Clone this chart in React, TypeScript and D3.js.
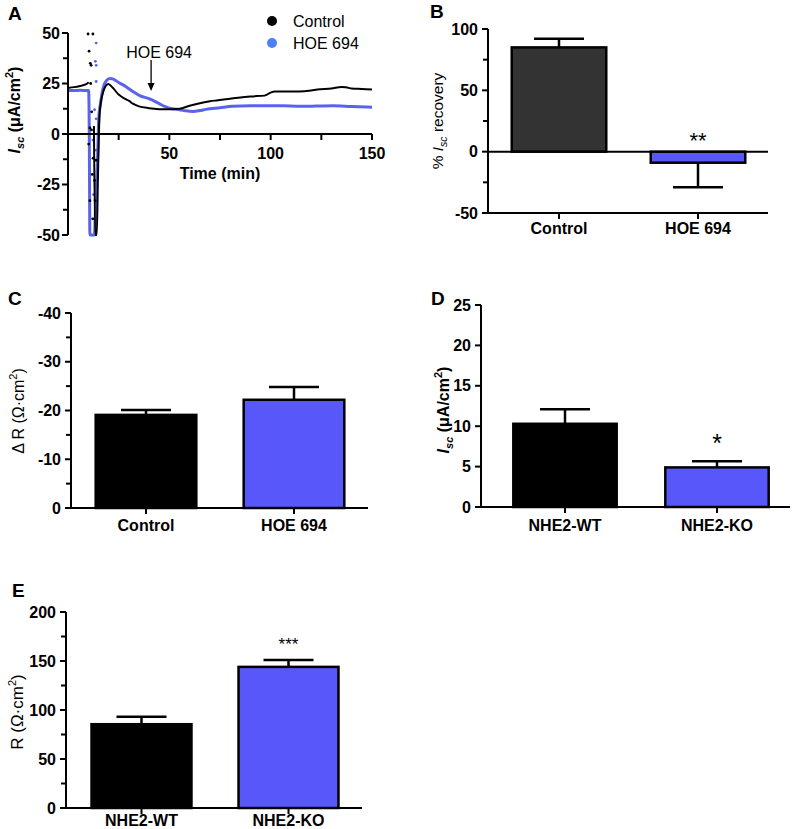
import React from 'react';
import * as d3 from 'd3';

const FONT = "'Liberation Sans', Arial, Helvetica, sans-serif";
const BLUE_BAR = '#5858fa';
const BLUE_TRACE = '#5b63ee';
const BLUE_LEGEND = '#4f7ff6';

// ---------- Panel A data ----------
const timeTicks = [25, 50, 75, 100, 125, 150];
const timeLabels = [50, 100, 150];
const iscTicks = [-50, -25, 0, 25, 50];
const iscMinor = [-37.5, -12.5, 12.5, 37.5];

const controlPre: [number, number][] = [
  [0, 22.8], [3, 23.2], [6, 23.8], [8, 24.3], [9.5, 25], [10.2, 25.6],
];
const controlTrace: [number, number][] = [
  [12.8, 4], [13.4, -50], [14.2, -50], [14.8, -20], [15.6, 10], [17.4, 21], [19.9, 24.7],
  [22, 23], [25, 19.5], [28, 17.5], [30, 16.5], [32, 15], [35, 13.7], [40, 12.8],
  [45, 12.3], [48, 12.2], [55, 12.5], [60, 14], [64, 15], [70, 16.2], [74, 16.7],
  [80, 17.5], [84, 18], [90, 18.6], [97, 19], [100, 20.5], [102, 21], [108, 21],
  [114, 21], [120, 21.5], [123, 22], [130, 22.5], [135, 23.3], [137, 23.2], [140, 22.5],
  [145, 22.3], [150, 22],
];
const hoeTrace: [number, number][] = [
  [0, 21.5], [3, 21.5], [6, 21.6], [9, 21.5], [10.2, 21.5], [10.5, 0], [10.8, -50],
  [13, -50], [13.8, -30], [14.5, -15], [15.2, 8], [16, 15], [17.4, 23], [19, 26.5],
  [20.7, 27.5], [22, 27.3], [25, 25.5], [28.8, 23.3], [32, 21], [35.4, 19], [40, 17.5],
  [45, 15], [48, 13.5], [50, 12.8], [55, 12], [58, 11.5], [61.7, 11.2], [65, 11.6],
  [68, 12.2], [75, 13], [81, 13.7], [90, 14], [98, 14], [106, 14], [114, 13.7],
  [122, 13.8], [131, 14], [140, 13.6], [150, 13.3],
];
const controlDots: [number, number][] = [
  [9.9, 49.5], [12.3, 49.5], [10.4, 41], [11, 35], [11.4, 34], [11.2, 25], [11.7, 11],
  [10.8, 3], [11.6, 2], [10.2, -5], [12.4, -12], [13.8, -13], [13.1, -23], [10.8, -33],
  [13.4, -33], [12.2, -42], [12, -20],
];
const hoeDots: [number, number][] = [
  [13.9, 45], [13.5, 36], [13.9, 34], [13.9, 26], [13.1, 12], [13.9, 7.5], [12.3, -3],
  [13.9, -8], [12.6, -30], [13.2, -42],
];

// ---------- Bar panel data ----------
const bCategories = ['Control', 'HOE 694'];
const bValues = [85, -9];
const bErrors = [7, 20];
const bTicks = [-50, 0, 50, 100];
const bMinor = [-25, 25, 75];

const cCategories = ['Control', 'HOE 694'];
const cValues = [-19.1, -22.2];
const cErrors = [1, 2.6];
const cTicks = [0, -10, -20, -30, -40];
const cMinor = [-5, -15, -25, -35];

const dCategories = ['NHE2-WT', 'NHE2-KO'];
const dValues = [10.3, 4.9];
const dErrors = [1.8, 0.75];
const dTicks = [0, 5, 10, 15, 20, 25];
const dMinor: number[] = [];

const eCategories = ['NHE2-WT', 'NHE2-KO'];
const eValues = [85.5, 144];
const eErrors = [7.5, 7];
const eTicks = [0, 50, 100, 150, 200];
const eMinor = [25, 75, 125, 175];

type BarProps = {
  cats: string[];
  values: number[];
  errors: number[];
  fills: string[];
  xRange: [number, number];
  axisX: number;
  axisXEnd: number;
  yDomain: [number, number];
  yRange: [number, number];
  xAxisAt: number;
  ticks: number[];
  minor: number[];
  zeroLine?: boolean;
  catLabelDy: number;
  star?: { index: number; text: string; size: number; cy: number };
};

function BarPanel(p: BarProps) {
  const y = d3.scaleLinear().domain(p.yDomain).range(p.yRange);
  const x = d3.scaleBand<string>().domain(p.cats).range(p.xRange).paddingInner(0.32).paddingOuter(0.16);
  const axisY = y(p.xAxisAt);
  const top = Math.min(p.yRange[0], p.yRange[1]);
  const bottom = Math.max(p.yRange[0], p.yRange[1]);
  const capHalf = 25;
  return (
    <g>
      {p.cats.map((c, i) => {
        const v = p.values[i];
        const y0 = y(0);
        const y1 = y(v);
        const bx = x(c)!;
        const cx = bx + x.bandwidth() / 2;
        const sign = Math.sign(v) || 1;
        const errEnd = y(v + sign * p.errors[i]);
        return (
          <g key={c}>
            <line x1={cx} x2={cx} y1={y1} y2={errEnd} stroke="#000" strokeWidth={2.5} />
            <line x1={cx - capHalf} x2={cx + capHalf} y1={errEnd} y2={errEnd} stroke="#000" strokeWidth={2.5} />
            <rect x={bx} y={Math.min(y0, y1)} width={x.bandwidth()} height={Math.abs(y1 - y0)}
              fill={p.fills[i]} stroke="#000" strokeWidth={2.5} />
          </g>
        );
      })}
      <line x1={p.axisX} x2={p.axisX} y1={top} y2={bottom} stroke="#000" strokeWidth={2} />
      {p.ticks.map(t => (
        <g key={'t' + t}>
          <line x1={p.axisX - 6} x2={p.axisX} y1={y(t)} y2={y(t)} stroke="#000" strokeWidth={2} />
          <text x={p.axisX - 10} y={y(t) + 5.5} textAnchor="end" fontSize={16} fontWeight="bold" fontFamily={FONT}>{String(t)}</text>
        </g>
      ))}
      {p.minor.map(t => (
        <line key={'m' + t} x1={p.axisX - 5} x2={p.axisX} y1={y(t)} y2={y(t)} stroke="#000" strokeWidth={2} />
      ))}
      <line x1={p.axisX} x2={p.axisXEnd} y1={axisY} y2={axisY} stroke="#000" strokeWidth={2} />
      {p.zeroLine && <line x1={p.axisX} x2={p.axisXEnd} y1={y(0)} y2={y(0)} stroke="#000" strokeWidth={2} />}
      {p.cats.map(c => {
        const cx = x(c)! + x.bandwidth() / 2;
        return (
          <g key={'x' + c}>
            <line x1={cx} x2={cx} y1={axisY} y2={axisY + 6} stroke="#000" strokeWidth={2} />
            <text x={cx} y={axisY + p.catLabelDy} textAnchor="middle" fontSize={16} fontWeight="bold" fontFamily={FONT}>{c}</text>
          </g>
        );
      })}
      {p.star && (
        <text x={x(p.cats[p.star.index])! + x.bandwidth() / 2} y={p.star.cy + p.star.size * 0.58}
          textAnchor="middle" fontSize={p.star.size} fontFamily={FONT}>{p.star.text}</text>
      )}
    </g>
  );
}

function PanelA() {
  const x = d3.scaleLinear().domain([0, 150]).range([68, 372]);
  const y = d3.scaleLinear().domain([-50, 50]).range([235, 33]);
  const line = d3.line<[number, number]>().x(d => x(d[0])).y(d => y(d[1])).curve(d3.curveMonotoneX);
  const y0 = y(0);
  const ax = x(41);
  return (
    <g>
      <path d={line(hoeTrace)!} fill="none" stroke={BLUE_TRACE} strokeWidth={3} />
      {hoeDots.map((d, i) => <circle key={'hd' + i} cx={x(d[0])} cy={y(d[1])} r={1.4} fill={BLUE_TRACE} />)}
      <path d={line(controlPre)!} fill="none" stroke="#000" strokeWidth={2} />
      <path d={line(controlTrace)!} fill="none" stroke="#000" strokeWidth={2} />
      {controlDots.map((d, i) => <circle key={'cd' + i} cx={x(d[0])} cy={y(d[1])} r={1.4} fill="#000" />)}
      <line x1={68} x2={68} y1={y(50)} y2={y(-50)} stroke="#000" strokeWidth={2} />
      {iscTicks.map(t => (
        <g key={'yt' + t}>
          <line x1={62} x2={68} y1={y(t)} y2={y(t)} stroke="#000" strokeWidth={2} />
          <text x={60} y={y(t) + 5.5} textAnchor="end" fontSize={16} fontWeight="bold" fontFamily={FONT}>{String(t)}</text>
        </g>
      ))}
      {iscMinor.map(t => <line key={'ym' + t} x1={63} x2={68} y1={y(t)} y2={y(t)} stroke="#000" strokeWidth={2} />)}
      <line x1={68} x2={x(150)} y1={y0} y2={y0} stroke="#000" strokeWidth={2} />
      {timeTicks.map(t => <line key={'xt' + t} x1={x(t)} x2={x(t)} y1={y0} y2={y0 + 6} stroke="#000" strokeWidth={2} />)}
      {timeLabels.map(t => (
        <text key={'xl' + t} x={x(t)} y={y0 + 25} textAnchor="middle" fontSize={16} fontWeight="bold" fontFamily={FONT}>{String(t)}</text>
      ))}
      <text x={220} y={179} textAnchor="middle" fontSize={16} fontWeight="bold" fontFamily={FONT}>Time (min)</text>
      <text transform="translate(20,110) rotate(-90)" textAnchor="middle" fontSize={16} fontWeight="bold" fontFamily={FONT}>
        <tspan fontStyle="italic">I</tspan>
        <tspan fontStyle="italic" fontSize={11} dy={4}>sc</tspan>
        <tspan dy={-4}> (μA/cm</tspan>
        <tspan fontSize={11} dy={-7}>2</tspan>
        <tspan dy={7}>)</tspan>
      </text>
      <text x={ax + 8} y={58} textAnchor="middle" fontSize={16} fontFamily={FONT}>HOE 694</text>
      <line x1={ax} x2={ax} y1={60} y2={84} stroke="#000" strokeWidth={1.3} />
      <path d={`M${ax - 3.5},83 L${ax + 3.5},83 L${ax},91 Z`} fill="#000" />
      <circle cx={272} cy={21} r={5} fill="#000" />
      <text x={293} y={27} fontSize={16} fontFamily={FONT}>Control</text>
      <circle cx={272} cy={43} r={5} fill={BLUE_LEGEND} />
      <text x={293} y={49} fontSize={16} fontFamily={FONT}>HOE 694</text>
    </g>
  );
}

export default function App() {
  return (
    <svg width={800} height={829} style={{ position: 'absolute', left: 0, top: 0, background: '#fff' }} fontFamily={FONT}>
      <rect x={0} y={0} width={800} height={829} fill="#fff" />
      <text x={8} y={20} fontSize={19} fontWeight="bold">A</text>
      <text x={430} y={18} fontSize={19} fontWeight="bold">B</text>
      <text x={8} y={305} fontSize={19} fontWeight="bold">C</text>
      <text x={431} y={305} fontSize={19} fontWeight="bold">D</text>
      <text x={12} y={597} fontSize={19} fontWeight="bold">E</text>

      <PanelA />

      <BarPanel cats={bCategories} values={bValues} errors={bErrors} fills={['#333333', BLUE_BAR]}
        xRange={[489.5, 767.5]} axisX={488} axisXEnd={768} yDomain={[-50, 100]} yRange={[213, 29]}
        xAxisAt={-50} ticks={bTicks} minor={bMinor} zeroLine catLabelDy={21}
        star={{ index: 1, text: '**', size: 22, cy: 135 }} />
      <text transform="translate(443,121) rotate(-90)" textAnchor="middle" fontSize={15.5} fontFamily={FONT}>
        <tspan>% </tspan>
        <tspan fontStyle="italic">I</tspan>
        <tspan fontStyle="italic" fontSize={10.5} dy={4}>sc</tspan>
        <tspan dy={-4}> recovery</tspan>
      </text>

      <BarPanel cats={cCategories} values={cValues} errors={cErrors} fills={['#000', BLUE_BAR]}
        xRange={[72, 368]} axisX={71} axisXEnd={368} yDomain={[0, -40]} yRange={[508, 313]}
        xAxisAt={0} ticks={cTicks} minor={cMinor} catLabelDy={23} />
      <text transform="translate(24,411) rotate(-90)" textAnchor="middle" fontSize={16} fontFamily={FONT}>
        <tspan>Δ R (Ω·cm</tspan>
        <tspan fontSize={11} dy={-7}>2</tspan>
        <tspan dy={7}>)</tspan>
      </text>

      <BarPanel cats={dCategories} values={dValues} errors={dErrors} fills={['#000', BLUE_BAR]}
        xRange={[489, 793]} axisX={481} axisXEnd={790} yDomain={[0, 25]} yRange={[507, 305]}
        xAxisAt={0} ticks={dTicks} minor={dMinor} catLabelDy={24}
        star={{ index: 1, text: '*', size: 25, cy: 437 }} />
      <text transform="translate(449,410) rotate(-90)" textAnchor="middle" fontSize={16} fontWeight="bold" fontFamily={FONT}>
        <tspan fontStyle="italic">I</tspan>
        <tspan fontStyle="italic" fontSize={11} dy={4}>sc</tspan>
        <tspan dy={-4}> (μA/cm</tspan>
        <tspan fontSize={11} dy={-7}>2</tspan>
        <tspan dy={7}>)</tspan>
      </text>

      <BarPanel cats={eCategories} values={eValues} errors={eErrors} fills={['#000', BLUE_BAR]}
        xRange={[68, 362]} axisX={66} axisXEnd={362} yDomain={[0, 200]} yRange={[808, 612]}
        xAxisAt={0} ticks={eTicks} minor={eMinor} catLabelDy={18}
        star={{ index: 1, text: '***', size: 17, cy: 640 }} />
      <text transform="translate(23,712) rotate(-90)" textAnchor="middle" fontSize={17} fontFamily={FONT}>
        <tspan>R (Ω·cm</tspan>
        <tspan fontSize={11} dy={-7}>2</tspan>
        <tspan dy={7}>)</tspan>
      </text>
    </svg>
  );
}
